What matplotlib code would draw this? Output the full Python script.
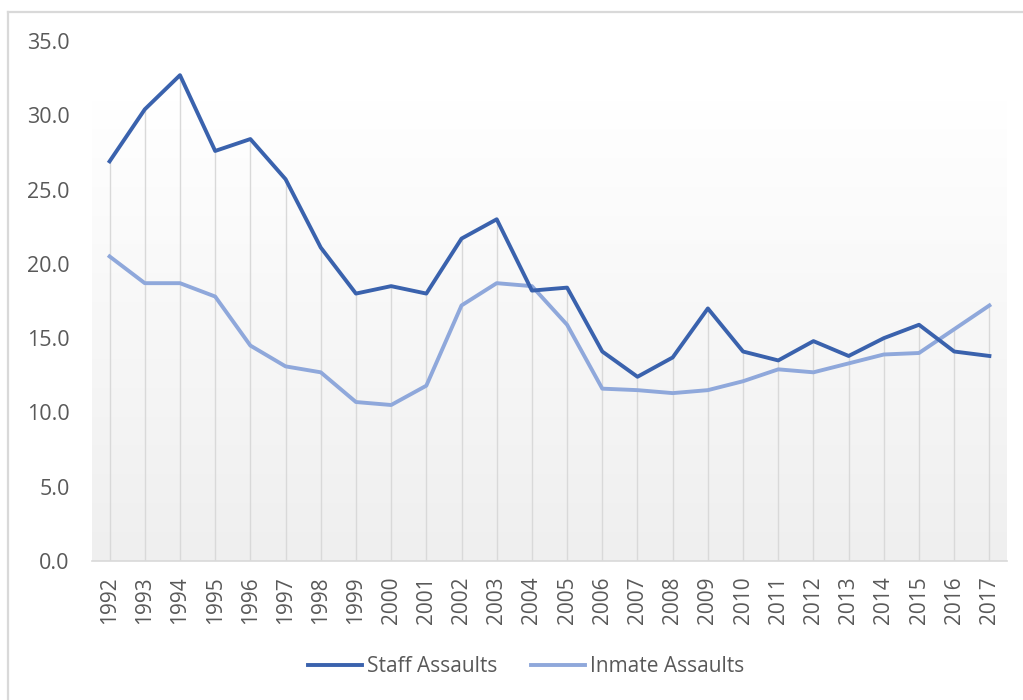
import matplotlib
matplotlib.use("Agg")
import matplotlib.pyplot as plt
import numpy as np
from matplotlib.lines import Line2D

years = list(range(1992, 2018))
staff = [26.9, 30.4, 32.7, 27.6, 28.4, 25.7, 21.1, 18.0, 18.5, 18.0, 21.7, 23.0, 18.2,
         18.4, 14.1, 12.4, 13.7, 17.0, 14.1, 13.5, 14.8, 13.8, 15.0, 15.9, 14.1, 13.8]
inmate = [20.5, 18.7, 18.7, 17.8, 14.5, 13.1, 12.7, 10.7, 10.5, 11.8, 17.2, 18.7, 18.5,
          15.9, 11.6, 11.5, 11.3, 11.5, 12.1, 12.9, 12.7, 13.3, 13.9, 14.0, 15.6, 17.2]
yticks = [0, 5, 10, 15, 20, 25, 30, 35]
series_names = ["Staff Assaults", "Inmate Assaults"]

staff_color = "#3A62AD"
inmate_color = "#8FA8DB"
text_color = "#595959"
grid_color = "#D9D9D9"

plt.rcParams['font.family'] = ['Open Sans', 'DejaVu Sans']

W, H = 1023, 700
fig = plt.figure(figsize=(W / 100, H / 100), dpi=100)

# chart border (only left and top edges visible in the crop)
fig.add_artist(Line2D([7.5 / W, 7.5 / W], [0, (H - 12) / H], transform=fig.transFigure,
                      color=grid_color, linewidth=1.6))
fig.add_artist(Line2D([7.5 / W, 1], [(H - 12) / H, (H - 12) / H], transform=fig.transFigure,
                      color=grid_color, linewidth=1.6))

left, right, top, bottom = 92, 1007, 41, 561
ax = fig.add_axes([left / W, (H - bottom) / H, (right - left) / W, (bottom - top) / H])
ax.set_facecolor("none")

x = np.arange(len(years))
ax.set_xlim(-0.5, len(years) - 0.5)
ax.set_ylim(0, 35)

# gradient plot-area fill
grad = np.linspace(0, 1, 256)
top_c = np.array([1.0, 1.0, 1.0])
bot_c = np.array([0xEF, 0xEF, 0xEF]) / 255
img = (top_c[None, :] * (1 - grad[:, None]) + bot_c[None, :] * grad[:, None]).reshape(256, 1, 3)
ax.imshow(img, extent=(-0.5, len(years) - 0.5, 0, 31.0), aspect="auto",
          zorder=0, origin="upper")

# drop lines
tops = np.maximum(staff, inmate)
ax.vlines(x, 0, tops, color=grid_color, linewidth=1.0, zorder=1)

ax.plot(x, inmate, color=inmate_color, linewidth=2.8, zorder=3, solid_joinstyle="round",
        label=series_names[1])
ax.plot(x, staff, color=staff_color, linewidth=2.8, zorder=4, solid_joinstyle="round",
        label=series_names[0])

for s in ["top", "right", "left"]:
    ax.spines[s].set_visible(False)
ax.spines["bottom"].set_color(grid_color)
ax.spines["bottom"].set_linewidth(1.2)

ax.set_yticks(yticks)
ax.set_yticklabels([f"{v:.1f}" for v in yticks])
ax.set_xticks(x)
ax.set_xticklabels([str(y) for y in years], rotation=90)
ax.tick_params(axis="y", length=0, pad=16, labelsize=15.5, labelcolor=text_color)
ax.tick_params(axis="x", length=0, pad=11, labelsize=15, labelcolor=text_color)

handles = [Line2D([0], [0], color=staff_color, linewidth=2.8),
           Line2D([0], [0], color=inmate_color, linewidth=2.8)]
fig.legend(handles, series_names, loc="center", bbox_to_anchor=(526 / W, (H - 667) / H),
           ncol=2, frameon=False, fontsize=15, labelcolor=text_color,
           handlelength=2.6, handletextpad=0.25, columnspacing=1.6)

fig.savefig("out.png", dpi=100)
